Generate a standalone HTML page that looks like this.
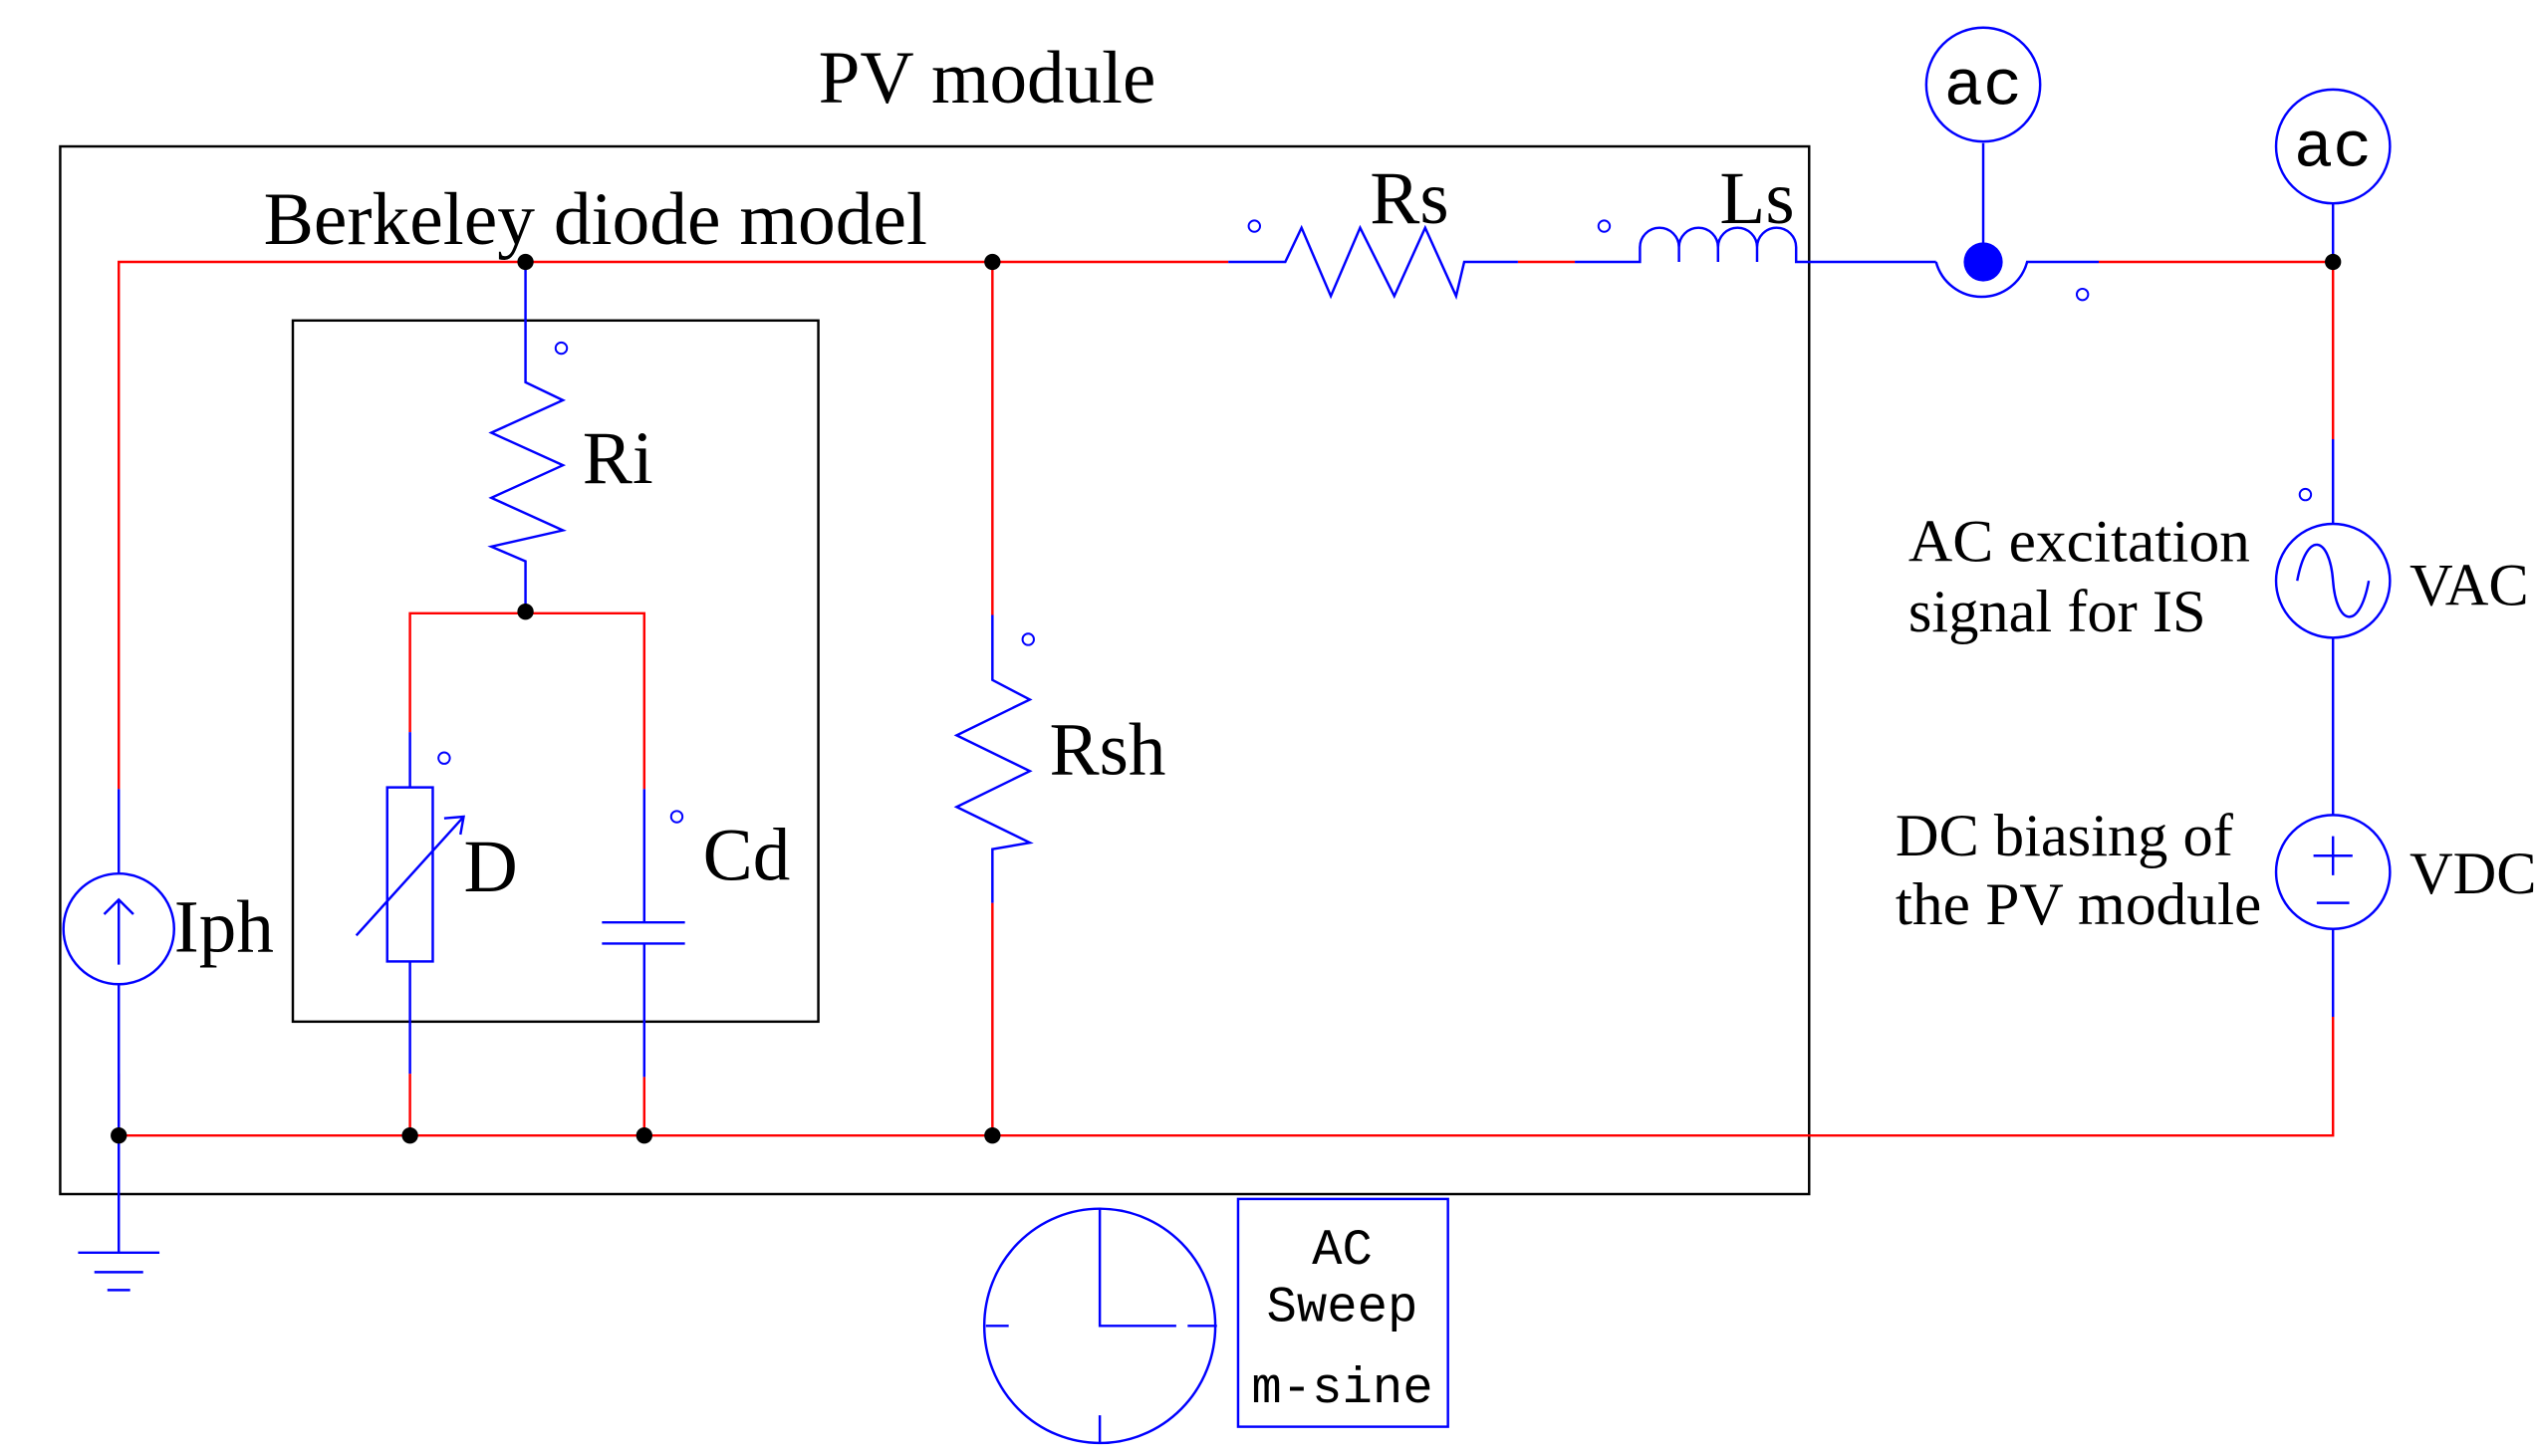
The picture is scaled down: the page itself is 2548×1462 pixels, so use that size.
<!DOCTYPE html>
<html><head><meta charset="utf-8"><style>html,body{margin:0;padding:0;background:#fff}svg{display:block}</style></head>
<body>
<svg width="2548" height="1462" viewBox="0 0 1560 895" preserveAspectRatio="none" xmlns="http://www.w3.org/2000/svg">
<g fill="none" stroke-width="1.5">
<rect x="37" y="90" width="1075" height="644" stroke="#000"/>
<rect x="180" y="197" width="323" height="431" stroke="#000"/>
<g stroke="#f00">
<path d="M73 485V161H755"/>
<path d="M933 161H968"/>
<path d="M1290 161H1434V270"/>
<path d="M1434 625V698H73"/>
<path d="M73 660V698"/>
<path d="M252 450V377H396V485"/>
<path d="M252 660V698M396 662V698"/>
<path d="M610 161V378M610 555V698"/>
</g>
<g stroke="#00f">
<path d="M755 161H790L800 140L818 182L836 140L857 182L876 140L895 182L900 161H933"/>
<path d="M968 161H1008V152A12 12 0 0 1 1032 152V161V152A12 12 0 0 1 1056 152V161V152A12 12 0 0 1 1080 152V161V152A12 12 0 0 1 1104 152V161H1190"/>
<path d="M1190 161A29 29 0 0 0 1246 161H1290"/>
<path d="M1219 88V161M1434 125V161"/>
<path d="M1434 270V322M1434 392V501M1434 571V625"/>
<path d="M73 485V537M73 605V770M48 770H98M58 782H88M66 793H80"/>
<path d="M323 161V235L346 246L302 266L346 286L302 306L346 326L302 336L323 345V376"/>
<path d="M252 450V484M252 591V660"/>
<rect x="238" y="484" width="28" height="107"/>
<path d="M219 575L285 502M273 503L285 502L283 513"/>
<path d="M396 485V567M370 567H421M370 580H421M396 580V662"/>
<path d="M610 378V418L633 430L588 452L633 474L588 496L633 518L610 522V555"/>
<circle cx="1219" cy="52" r="35"/>
<circle cx="1434" cy="90" r="35"/>
<circle cx="1434" cy="357" r="35"/>
<path d="M1412 357C1418 325 1432 330 1434 357C1436 384 1450 389 1456 357"/>
<circle cx="1434" cy="536" r="35"/>
<path d="M1422 526H1446M1434 514V538M1424 555H1444"/>
<circle cx="73" cy="571" r="34"/>
<path d="M73 593V553M64 562L73 553L82 562"/>
<ellipse cx="676" cy="815" rx="71" ry="72"/>
<path d="M676 743V815H723M730 815H748M606 815H620M676 870V887"/>
<rect x="761" y="737" width="129" height="140"/>
<g stroke-width="1.2">
<circle cx="771" cy="139" r="3.5"/><circle cx="986" cy="139" r="3.5"/><circle cx="345" cy="214" r="3.5"/>
<circle cx="273" cy="466" r="3.5"/><circle cx="416" cy="502" r="3.5"/><circle cx="632" cy="393" r="3.5"/>
<circle cx="1280" cy="181" r="3.5"/><circle cx="1417" cy="304" r="3.5"/>
</g>
</g>
</g>
<circle cx="1219" cy="161" r="12" fill="#00f"/>
<g fill="#000">
<circle cx="323" cy="161" r="5"/><circle cx="610" cy="161" r="5"/><circle cx="1434" cy="161" r="5"/>
<circle cx="323" cy="376" r="5"/><circle cx="73" cy="698" r="5"/><circle cx="252" cy="698" r="5"/>
<circle cx="396" cy="698" r="5"/><circle cx="610" cy="698" r="5"/>
</g>
<g font-family="Liberation Serif, serif" fill="#000" font-size="46">
<text x="503" y="63">PV module</text>
<text x="162" y="150" textLength="408" lengthAdjust="spacingAndGlyphs">Berkeley diode model</text>
<text x="842" y="137">Rs</text>
<text x="1057" y="137">Ls</text>
<text x="358" y="297">Ri</text>
<text x="645" y="476">Rsh</text>
<text x="285" y="548">D</text>
<text x="432" y="541">Cd</text>
<text x="107" y="585">Iph</text>
<text x="1481" y="372" font-size="37">VAC</text>
<text x="1481" y="549" font-size="37">VDC</text>
<g font-size="37">
<text x="1173" y="345" textLength="210" lengthAdjust="spacingAndGlyphs">AC excitation</text>
<text x="1173" y="388">signal for IS</text>
<text x="1165" y="526">DC biasing of</text>
<text x="1165" y="568" textLength="225" lengthAdjust="spacingAndGlyphs">the PV module</text>
</g>
</g>
<g font-family="Liberation Mono, monospace" fill="#000" text-anchor="middle">
<text x="1219" y="64" font-size="40">ac</text>
<text x="1434" y="102" font-size="40">ac</text>
<text x="825" y="777" font-size="31">AC</text>
<text x="825" y="812" font-size="31">Sweep</text>
<text x="825" y="862" font-size="31">m-sine</text>
</g>
</svg>
</body></html>
